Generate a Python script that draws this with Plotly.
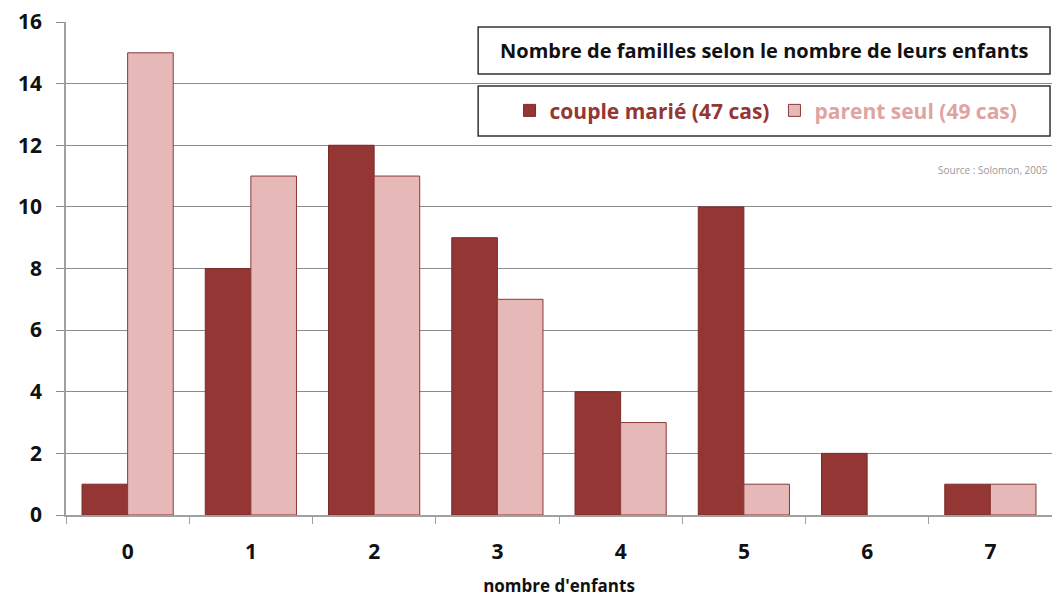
import plotly.graph_objects as go

categories = ["0", "1", "2", "3", "4", "5", "6", "7"]
couple_marie = [1, 8, 12, 9, 4, 10, 2, 1]
parent_seul = [15, 11, 11, 7, 3, 1, 0, 1]
y_ticks = [0, 2, 4, 6, 8, 10, 12, 14, 16]

DARK = "#943634"
LIGHT = "#E6B9B8"
FONT = "Open Sans"

fig = go.Figure()
fig.add_trace(go.Bar(
    x=categories, y=couple_marie,
    name=f"<b><span style='color:{DARK}'>couple marié (47 cas)</span></b>",
    marker=dict(color=DARK, line=dict(color="#7a2a28", width=1)),
))
fig.add_trace(go.Bar(
    x=categories, y=parent_seul,
    name="<b><span style='color:#E0A3A2'>parent seul (49 cas)</span></b>",
    marker=dict(color=LIGHT,
                line=dict(color="#8a3a38", width=[0 if v == 0 else 1 for v in parent_seul])),
))

fig.update_layout(
    width=1052, height=599,
    margin=dict(l=66, r=0, t=22, b=84),
    paper_bgcolor="white", plot_bgcolor="white",
    barmode="group", bargap=0.26, bargroupgap=0,
    font=dict(family=FONT, color="#111111"),
    showlegend=True,
    legend=dict(
        orientation="h", x=0.71, y=0.82, xanchor="center", yanchor="middle",
        font=dict(family=FONT, size=21, color=DARK),
        bgcolor="rgba(0,0,0,0)", borderwidth=0,
        itemwidth=30, traceorder="normal",
    ),
    xaxis=dict(
        type="category", range=[-0.5, 7.5], automargin=False,
        showline=True, linecolor="#a0a0a0", linewidth=1.5,
        ticks="outside", tickson="boundaries", ticklen=7, tickcolor="#a0a0a0",
        ticklabelstandoff=17,
        tickfont=dict(family=FONT, size=21, color="#111111", weight="bold"),
        title=dict(text="<b>nombre d'enfants</b>", font=dict(family=FONT, size=17, color="#111111"), standoff=16),
        showgrid=False,
    ),
    yaxis=dict(
        range=[0, 16], tickvals=y_ticks, automargin=False,
        showline=True, linecolor="#a0a0a0", linewidth=1.5,
        showgrid=True, gridcolor="#8c8c8c", gridwidth=1,
        ticks="outside", ticklen=8, tickcolor="#8c8c8c",
        ticklabelstandoff=10,
        tickfont=dict(family=FONT, size=21, color="#111111", weight="bold"),
        zeroline=False,
    ),
    shapes=[
        dict(type="rect", xref="paper", yref="paper", x0=0.418, x1=0.998, y0=0.8945, y1=0.99,
             line=dict(color="#333333", width=1.5), fillcolor="white", layer="above"),
        dict(type="rect", xref="paper", yref="paper", x0=0.418, x1=0.998, y0=0.769, y1=0.870,
             line=dict(color="#333333", width=1.5), fillcolor="white", layer="above"),
    ],
    annotations=[
        dict(text="<b>Nombre de familles selon le nombre de leurs enfants</b>",
             xref="paper", yref="paper", x=0.708, y=0.942, xanchor="center", yanchor="middle",
             showarrow=False, font=dict(family=FONT, size=20, color="#111111")),
        dict(text="Source : Solomon, 2005",
             xref="paper", yref="paper", x=0.998, y=0.7, xanchor="right", yanchor="middle",
             showarrow=False, font=dict(family=FONT, size=10, color="#999999")),
    ],
)

fig.write_html("out.html", config={"displayModeBar": False},
               post_script="document.body.style.margin='0';document.body.style.overflow='hidden';")
